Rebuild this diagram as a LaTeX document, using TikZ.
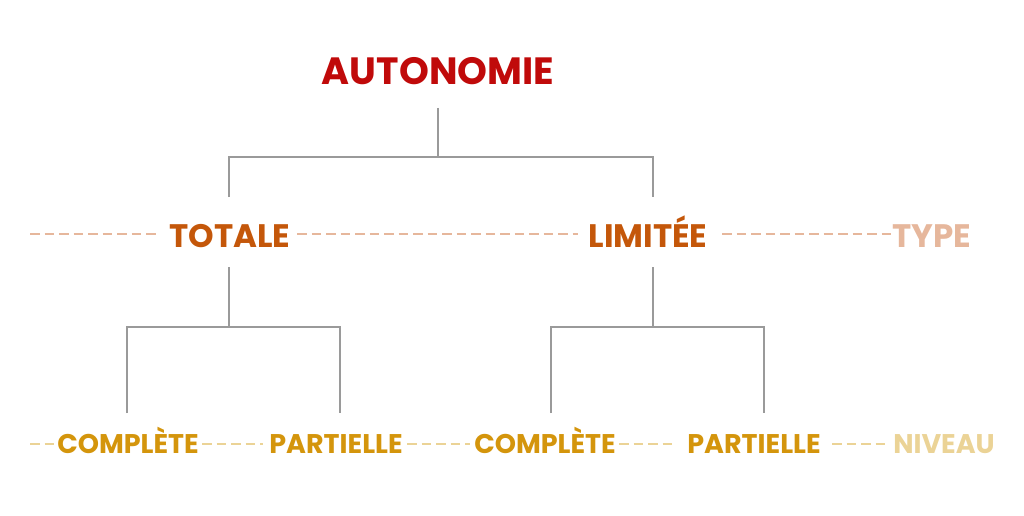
\documentclass[tikz,border=0pt]{standalone}
\usepackage{fontspec}
\setmainfont{Poppins}
\begin{document}
\begin{tikzpicture}[x=1pt,y=1pt,
  tree/.style={draw=treegray, line width=1.6pt},
  guide/.style={line width=2.5pt, dash pattern=on 9.5pt off 5pt},
  lvlA/.style={font=\fontsize{38}{38}\selectfont\bfseries, text=cRed, inner sep=0pt, anchor=base},
  lvlB/.style={font=\fontsize{32.5}{32.5}\selectfont\bfseries, text=cOrange, inner sep=0pt, anchor=base},
  lvlC/.style={font=\fontsize{27}{27}\selectfont\bfseries, text=cGold, inner sep=0pt, anchor=base},
]
\definecolor{treegray}{HTML}{9A9A9A}
\definecolor{cRed}{HTML}{C00A0A}
\definecolor{cOrange}{HTML}{C4570A}
\definecolor{cPeach}{HTML}{E6B79C}
\definecolor{cGold}{HTML}{D4950C}
\definecolor{cLightGold}{HTML}{EBD396}
\useasboundingbox (0,0) rectangle (1024,515);
% titles
\node[lvlA] (auto) at (438,515-85) {AUTONOMIE};
\node[lvlB] (tot) at (230,515-247) {TOTALE};
\node[lvlB] (lim) at (648,515-247) {LIMITÉE};
\node[lvlB, text=cPeach] (type) at (932,515-247) {TYPE};
\node[lvlC] (c1) at (128,515-453) {COMPLÈTE};
\node[lvlC] (p1) at (336,515-453) {PARTIELLE};
\node[lvlC] (c2) at (545,515-453) {COMPLÈTE};
\node[lvlC] (p2) at (754,515-453) {PARTIELLE};
\node[lvlC, text=cLightGold] (niv) at (944,515-453) {NIVEAU};
% tree coordinates
\coordinate (a0) at (438,515-108);
\coordinate (ab) at (438,515-157);
\coordinate (t0) at (229,515-197);
\coordinate (l0) at (653,515-197);
\coordinate (t1) at (229,515-267);
\coordinate (l1) at (653,515-267);
\coordinate (c1t) at (127,515-413);
\coordinate (p1t) at (340,515-413);
\coordinate (c2t) at (551,515-413);
\coordinate (p2t) at (764,515-413);
\draw[tree] (a0) -- (ab);
\draw[tree] (t0) |- (ab) -| (l0);
\draw[tree] (t1) -- (229,515-327);
\draw[tree] (c1t) |- (229,515-327) -| (p1t);
\draw[tree] (l1) -- (653,515-327);
\draw[tree] (c2t) |- (653,515-327) -| (p2t);
% guide lines
\coordinate (g0) at (30,515-234);
\draw[guide, draw=cPeach] (g0) -- (160,515-234);
\draw[guide, draw=cPeach] (297,515-234) -- (578,515-234);
\draw[guide, draw=cPeach] (722,515-234) -- (892,515-234);
\coordinate (h0) at (30,515-444);
\draw[guide, draw=cLightGold] (h0) -- (55,515-444);
\draw[guide, draw=cLightGold] (202,515-444) -- (263,515-444);
\draw[guide, draw=cLightGold] (407,515-444) -- (470,515-444);
\draw[guide, draw=cLightGold] (619,515-444) -- (675,515-444);
\draw[guide, draw=cLightGold] (832,515-444) -- (886,515-444);
\end{tikzpicture}
\end{document}
